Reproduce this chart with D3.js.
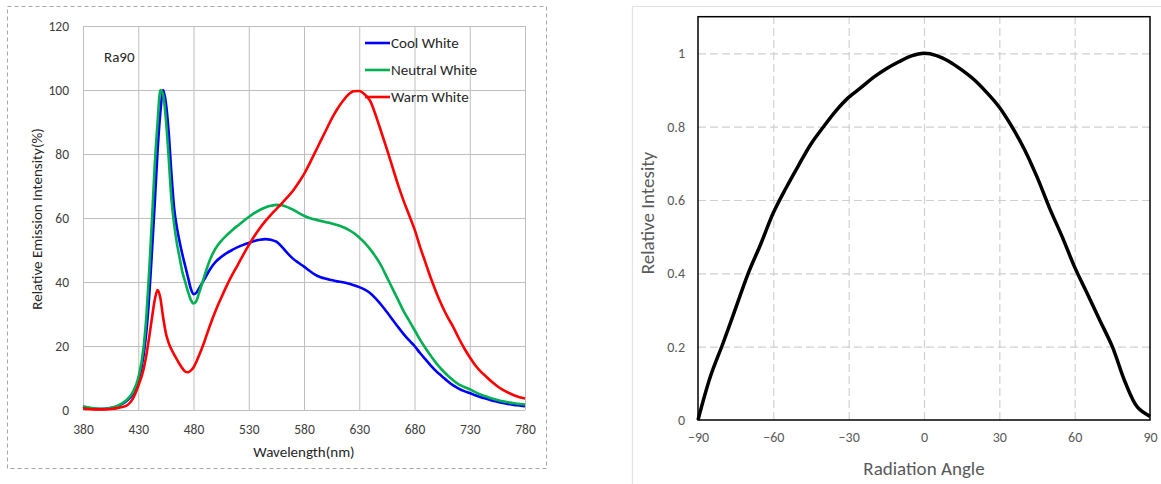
<!DOCTYPE html>
<html>
<head>
<meta charset="utf-8">
<script src="https://cdn.jsdelivr.net/npm/d3@7"></script>
<style>
  html, body { margin: 0; padding: 0; background: #ffffff; }
  svg { display: block; }
  text { font-family: Carlito, "Open Sans", "Noto Sans", sans-serif; }
</style>
</head>
<body>
<svg id="chart" width="1161" height="484"></svg>
<script>
// ---------- Spectrum data (left chart) ----------
const wavelengths = [380,385,390,395,400,405,410,415,420,425,430,435,
  437.5,440,442.5,445,447.5,450,452.5,455,457.5,460,462.5,465,467.5,470,472.5,475,477.5,480,482.5,485,
  490,495,500,505,510,515,520,525,530,535,540,545,550,555,560,565,570,575,580,585,590,595,600,605,610,615,
  620,625,630,635,640,645,650,655,660,665,670,675,680,685,690,695,700,705,710,715,720,725,730,735,740,745,
  750,755,760,765,770,775,780];
const coolWhite = [1.0,0.6,0.4,0.3,0.4,0.6,1.0,1.8,3,5,9,17.5,
  25,36,50,65,81,93,100,96,87,74,63,57,52.5,48.5,45,41.5,38,36.2,36.6,38,
  41,44,46.3,47.8,49,50,50.9,51.6,52.2,52.8,53.2,53.4,53.2,52.6,51,49,47.3,46,44.8,43.5,42.3,41.5,41,40.6,40.2,39.9,
  39.5,39,38.4,37.6,36.5,34.8,32.8,30.6,28.3,26,23.8,21.8,20,17.8,15.8,13.8,12,10.5,9,7.7,6.7,5.9,5.3,4.6,4,3.5,
  3,2.6,2.2,1.9,1.6,1.4,1.2];
const neutralWhite = [1.2,0.8,0.5,0.4,0.4,0.6,1.1,2,3.3,5.5,10,20,
  30,44,60,77,90,100,98.5,91,79,66,58,52,47.5,43,40,37,34.5,33.3,34,36.5,
  42,47,50.5,52.8,54.6,56.2,57.6,59,60.3,61.5,62.5,63.3,63.8,64.1,64,63.4,62.6,61.6,60.7,60,59.5,59.1,58.7,58.3,57.8,57.2,
  56.4,55.3,53.9,52.2,50.2,47.8,45,41.5,38,34.5,31,28,25,22,19.3,16.8,14.5,12.5,10.8,9.3,8,7.2,6.5,5.6,4.8,4.2,
  3.6,3.1,2.7,2.4,2.1,1.9,1.7];
const warmWhite = [0.5,0.3,0.2,0.2,0.2,0.3,0.5,0.9,1.5,3.5,7.5,13,
  17.5,23,29,34.5,37.5,35,29,24,21,19,17.3,15.8,14.3,13,12,11.8,12.3,13.3,15,17,
  21.5,26.5,31,35,38.8,42.2,45.3,48.5,51.5,54.3,56.8,59,61,62.8,64.6,66.5,68.5,71,73.7,77,80.5,84,87.5,91,94,96.5,
  98.5,99.6,99.7,98.6,96.5,92,86.8,81.5,76,70.5,65.5,61,56.5,51,46,41,36.5,32.5,29,26,22.5,19.3,16.5,14,12,10.4,
  8.8,7.4,6.3,5.4,4.6,4,3.6];
const seriesNames = ["Cool White", "Neutral White", "Warm White"];
const seriesColors = ["#0000ff", "#00b050", "#ff0000"];
const wavelengthTicks = [380,430,480,530,580,630,680,730,780];
const intensityTicks = [0,20,40,60,80,100,120];

// ---------- Radiation pattern data (right chart) ----------
const angles = [-90,-85,-80,-75,-70,-65,-60,-55,-50,-45,-40,-35,-30,-25,-20,-15,-10,-5,0,
  5,10,15,20,25,30,35,40,45,50,55,60,65,70,75,80,85,90];
const relIntensity = [0,0.12,0.21,0.305,0.40,0.48,0.565,0.632,0.694,0.753,0.80,0.844,0.88,0.907,0.935,0.958,0.977,0.993,1.0,
  0.994,0.978,0.955,0.928,0.893,0.853,0.80,0.738,0.663,0.578,0.50,0.417,0.345,0.272,0.20,0.105,0.035,0.01];
const angleTicks = [-90,-60,-30,0,30,60,90];
const relTicks = [0,0.2,0.4,0.6,0.8,1];

const svg = d3.select("#chart");

// ================= LEFT CHART =================
{
  const L = { left: 83, right: 525, top: 26, bottom: 410 };
  svg.append("rect").attr("x", 7.5).attr("y", 6.5).attr("width", 539).attr("height", 462)
    .attr("fill", "none").attr("stroke", "#a6a6a6").attr("stroke-width", 1).attr("stroke-dasharray", "4,3");

  const x = d3.scaleLinear().domain([380, 780]).range([L.left, L.right]);
  const y = d3.scaleLinear().domain([0, 120]).range([L.bottom, L.top]);

  const gx = svg.append("g").attr("transform", `translate(0,${L.bottom})`)
    .call(d3.axisBottom(x).tickValues(wavelengthTicks).tickSize(-(L.bottom - L.top)).tickFormat(""));
  gx.select(".domain").remove();
  gx.selectAll("line").attr("stroke", "#bfbfbf").attr("stroke-width", 1);
  const gy = svg.append("g").attr("transform", `translate(${L.left},0)`)
    .call(d3.axisLeft(y).tickValues(intensityTicks).tickSize(-(L.right - L.left)).tickFormat(""));
  gy.select(".domain").remove();
  gy.selectAll("line").attr("stroke", "#bfbfbf").attr("stroke-width", 1);

  const ax = svg.append("g").attr("transform", `translate(0,${L.bottom})`)
    .call(d3.axisBottom(x).tickValues(wavelengthTicks).tickSize(0).tickPadding(14).tickFormat(d3.format("d")));
  ax.select(".domain").remove();
  ax.selectAll("text").attr("fill", "#404040").style("font-size", "13.5px");
  const ay = svg.append("g").attr("transform", `translate(${L.left},0)`)
    .call(d3.axisLeft(y).tickValues(intensityTicks).tickSize(0).tickPadding(14).tickFormat(d3.format("d")));
  ay.select(".domain").remove();
  ay.selectAll("text").attr("fill", "#404040").style("font-size", "13.5px");

  const allSeries = [coolWhite, neutralWhite, warmWhite];
  const line = d3.line().x((d, i) => x(wavelengths[i])).y(d => y(d)).curve(d3.curveMonotoneX);
  allSeries.forEach((vals, k) => {
    svg.append("path").datum(vals).attr("d", line)
      .attr("fill", "none").attr("stroke", seriesColors[k]).attr("stroke-width", 2.6)
      .attr("stroke-linejoin", "round");
  });

  const lg = svg.append("g");
  seriesNames.forEach((name, k) => {
    const ly = 43 + k * 27;
    lg.append("line").attr("x1", 365).attr("x2", 390).attr("y1", ly).attr("y2", ly)
      .attr("stroke", seriesColors[k]).attr("stroke-width", 2.6);
    lg.append("text").attr("x", 391).attr("y", ly).attr("dy", "0.35em")
      .attr("fill", "#262626").style("font-size", "15px").text(name);
  });

  svg.append("text").attr("x", 104).attr("y", 57).attr("dy", "0.35em")
    .attr("fill", "#262626").style("font-size", "15px").text("Ra90");

  svg.append("text").attr("x", (L.left + L.right) / 2).attr("y", 452).attr("dy", "0.35em")
    .attr("text-anchor", "middle").attr("fill", "#262626").style("font-size", "15px").text("Wavelength(nm)");
  svg.append("text").attr("transform", "translate(37,219) rotate(-90)").attr("dy", "0.35em")
    .attr("text-anchor", "middle").attr("fill", "#262626").style("font-size", "15px")
    .text("Relative Emission Intensity(%)");
}

// ================= RIGHT CHART =================
{
  const R = { left: 698, right: 1150, top: 16.7, bottom: 420 };
  svg.append("path").attr("d", "M632.5,484 L632.5,6.5 L1161,6.5")
    .attr("fill", "none").attr("stroke", "#e3e3e3").attr("stroke-width", 1.2);

  const x = d3.scaleLinear().domain([-90, 90]).range([R.left, R.right]);
  const y = d3.scaleLinear().domain([0, 1.1]).range([R.bottom, R.top]);

  const gx = svg.append("g").attr("transform", `translate(0,${R.bottom})`)
    .call(d3.axisBottom(x).tickValues(angleTicks.slice(1, -1)).tickSize(-(R.bottom - R.top)).tickFormat(""));
  gx.select(".domain").remove();
  gx.selectAll("line").attr("stroke", "#d0d0d0").attr("stroke-width", 1.2).attr("stroke-dasharray", "8,4");
  const gy = svg.append("g").attr("transform", `translate(${R.left},0)`)
    .call(d3.axisLeft(y).tickValues(relTicks.slice(1)).tickSize(-(R.right - R.left)).tickFormat(""));
  gy.select(".domain").remove();
  gy.selectAll("line").attr("stroke", "#d0d0d0").attr("stroke-width", 1.2).attr("stroke-dasharray", "8,4");

  svg.append("rect").attr("x", R.left).attr("y", R.top).attr("width", R.right - R.left)
    .attr("height", R.bottom - R.top).attr("fill", "none").attr("stroke", "#000").attr("stroke-width", 1.5);

  const ax = svg.append("g").attr("transform", `translate(0,${R.bottom})`)
    .call(d3.axisBottom(x).tickValues(angleTicks).tickSize(0).tickPadding(12).tickFormat(d3.format("d")));
  ax.select(".domain").remove();
  ax.selectAll("text").attr("fill", "#595959").style("font-size", "14px");
  const ay = svg.append("g").attr("transform", `translate(${R.left},0)`)
    .call(d3.axisLeft(y).tickValues(relTicks).tickSize(0).tickPadding(13).tickFormat(d => d3.format("")(+d.toFixed(1))));
  ay.select(".domain").remove();
  ay.selectAll("text").attr("fill", "#595959").style("font-size", "14px");

  const line = d3.line().x((d, i) => x(angles[i])).y(d => y(d)).curve(d3.curveCatmullRom.alpha(0.5));
  svg.append("path").datum(relIntensity).attr("d", line)
    .attr("fill", "none").attr("stroke", "#000").attr("stroke-width", 3.5).attr("stroke-linejoin", "round");

  svg.append("text").attr("x", (R.left + R.right) / 2).attr("y", 468).attr("dy", "0.35em")
    .attr("text-anchor", "middle").attr("fill", "#595959").style("font-size", "19px").text("Radiation Angle");
  svg.append("text").attr("transform", "translate(647,213) rotate(-90)").attr("dy", "0.35em")
    .attr("text-anchor", "middle").attr("fill", "#595959").style("font-size", "19px").text("Relative Intesity");
}
</script>
</body>
</html>
